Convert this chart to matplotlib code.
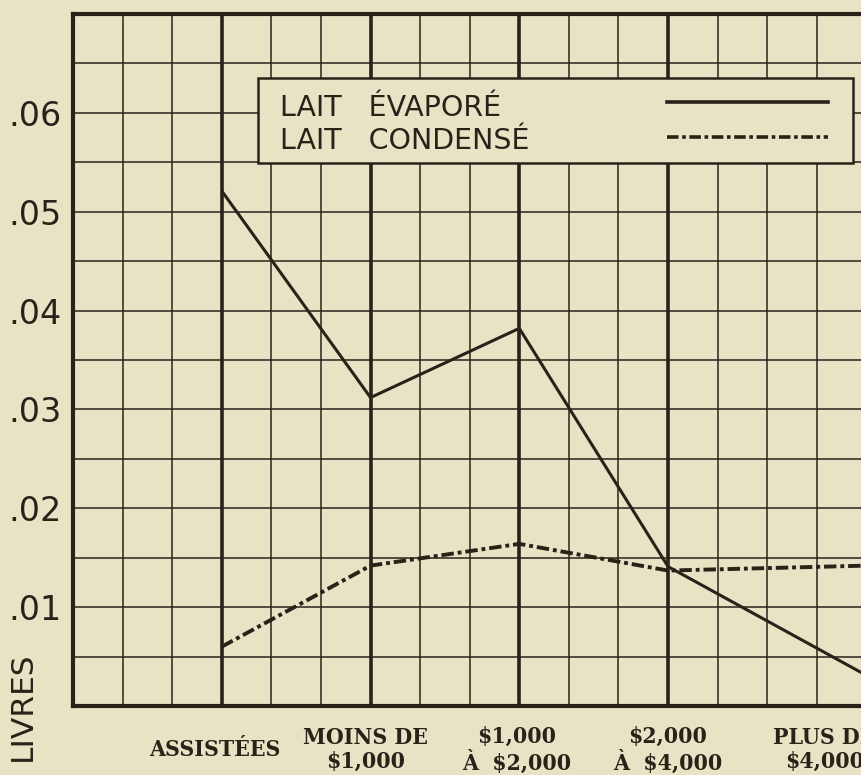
import numpy as np
import matplotlib.pyplot as plt
from matplotlib.patches import Rectangle
from matplotlib.lines import Line2D

# data (livres per person)
categories = ['ASSISTÉES', 'MOINS DE\n$1,000', '$1,000\nÀ  $2,000', '$2,000\nÀ  $4,000', 'PLUS DE\n$4,000']
evapore = [0.0521, 0.0312, 0.0382, 0.0141, 0.0031]
condense = [0.0060, 0.0142, 0.0164, 0.0137, 0.0142]
series_names = ['LAIT   ÉVAPORÉ', 'LAIT   CONDENSÉ']
yticks = [0.01, 0.02, 0.03, 0.04, 0.05, 0.06]
ytick_labels = ['.01', '.02', '.03', '.04', '.05', '.06']

# layout (grid cell units on x)
cat_x = [3, 6, 9, 12, 16]
label_x = [2.85, 5.9, 8.95, 12.0, 15.15]

bg = '#e7e3c4'
ink = '#2a2119'

fig = plt.figure(figsize=(8.61, 7.75), dpi=100)
fig.patch.set_facecolor(bg)
ax = fig.add_axes([73/861, 69/775, 843/861, 692/775])
ax.set_facecolor(bg)
ax.set_xlim(0, 17)
ax.set_ylim(0, 0.07)

# graph paper grid
for i in range(1, 17):
    ax.axvline(i, color=ink, lw=2.6 if i in cat_x else 1.1, zorder=1)
for yv in np.arange(0.005, 0.07, 0.005):
    ax.axhline(yv, color=ink, lw=1.1, zorder=1)

for s in ax.spines.values():
    s.set_linewidth(3)
    s.set_color(ink)

ax.plot(cat_x, evapore, color=ink, lw=2.2, zorder=3, solid_capstyle='butt')
ax.plot(cat_x, condense, color=ink, lw=2.8, zorder=3, dashes=(3.2, 1, 1, 1))

ax.set_xticks([])
ax.set_yticks(yticks)
ax.set_yticklabels(ytick_labels, fontsize=24, color=ink, family='DejaVu Sans')
ax.tick_params(axis='y', length=0, pad=8)

# category labels under the axis
for xl, lab in zip(label_x, categories):
    ax.text(xl, -0.0635, lab, transform=ax.get_xaxis_transform(), ha='center', va='center',
            fontsize=16.5, fontweight='bold', family='DejaVu Serif', fontstretch='condensed',
            color=ink, linespacing=1.15)

fig.text(22/861, (775-706)/775, 'LIVRES', rotation=90, ha='center', va='center',
         fontsize=22.5, color=ink, family='DejaVu Sans')

# legend box drawn by hand (text left, line sample right)
ax.add_patch(Rectangle((0.2195, 0.785), 0.7055, 0.1225, transform=ax.transAxes,
                       facecolor=bg, edgecolor=ink, lw=1.8, zorder=4))
ax.text(0.2456, 0.864, series_names[0], transform=ax.transAxes, va='center', ha='left',
        fontsize=20.5, color=ink, zorder=5)
ax.text(0.2456, 0.8165, series_names[1], transform=ax.transAxes, va='center', ha='left',
        fontsize=20.5, color=ink, zorder=5)
ax.add_line(Line2D([0.7046, 0.8956], [0.873, 0.873], transform=ax.transAxes,
                   color=ink, lw=2.6, zorder=5))
ax.add_line(Line2D([0.7046, 0.8956], [0.822, 0.822], transform=ax.transAxes,
                   color=ink, lw=2.6, dashes=(3.2, 1, 1, 1), zorder=5))

fig.savefig('out.png', dpi=100, facecolor=bg)
